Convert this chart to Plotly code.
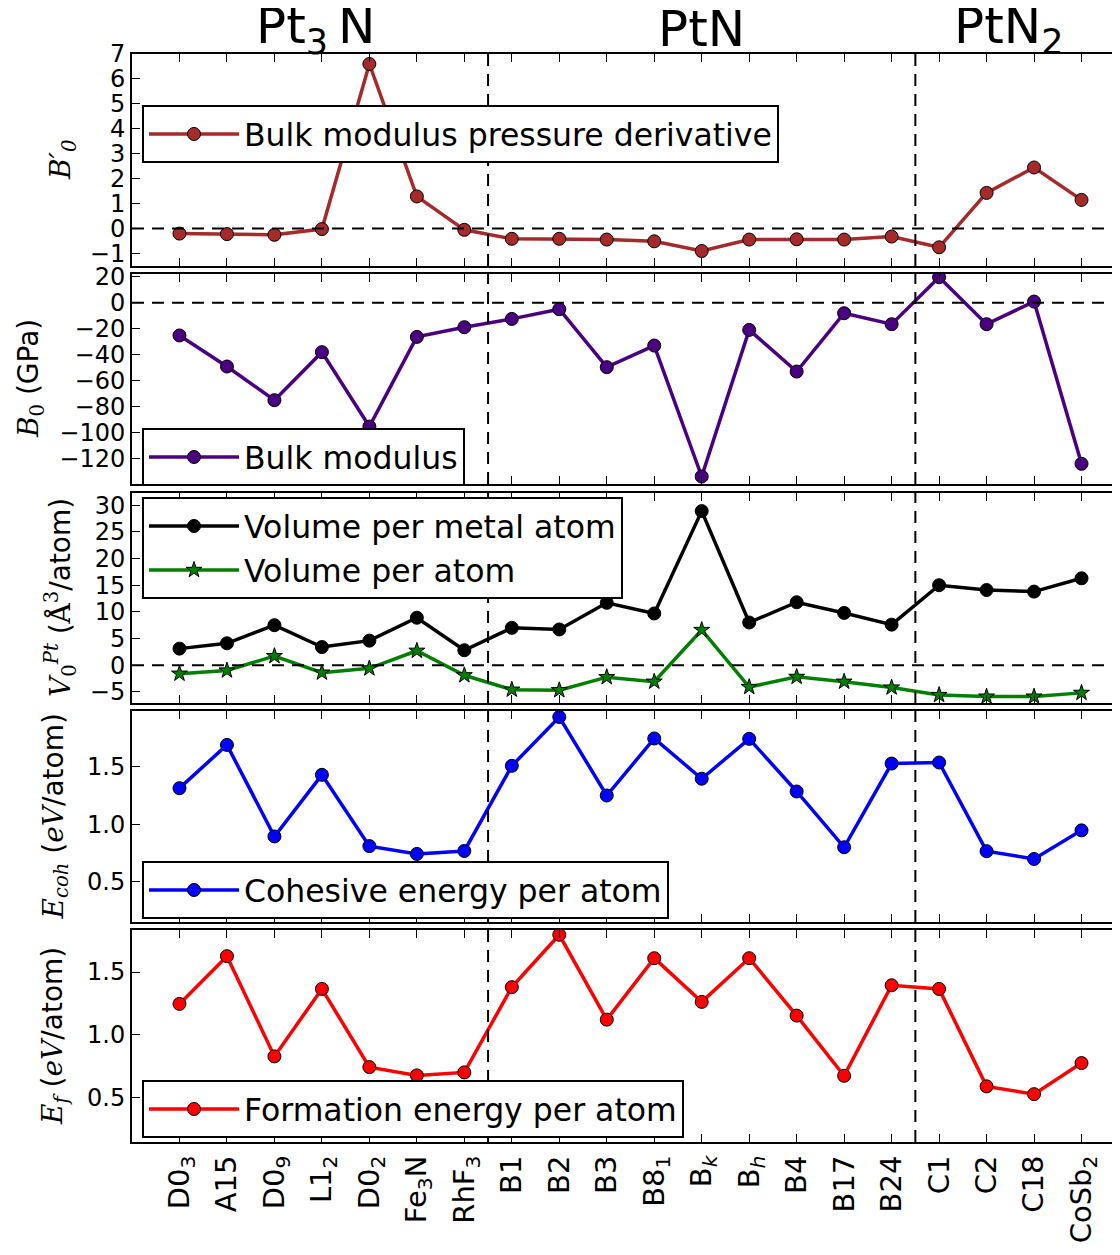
import plotly.graph_objects as go

categories = ["D0<sub>3</sub>", "A15", "D0<sub>9</sub>", "L1<sub>2</sub>", "D0<sub>2</sub>",
              "Fe<sub>3</sub>N", "RhF<sub>3</sub>", "B1", "B2", "B3", "B8<sub>1</sub>",
              "B<sub><i>k</i></sub>", "B<sub><i>h</i></sub>", "B4", "B17", "B24",
              "C1", "C2", "C18", "CoSb<sub>2</sub>"]

bprime = [-0.2, -0.22, -0.25, -0.02, 6.6, 1.29, -0.05, -0.41, -0.41, -0.44, -0.51,
          -0.9, -0.44, -0.43, -0.44, -0.32, -0.75, 1.43, 2.45, 1.15]
bulk = [-25.2, -49.2, -75.2, -38.1, -95.6, -26.3, -18.8, -12.4, -4.9, -49.7, -33.0,
        -134.2, -20.9, -53.1, -8.0, -16.5, 19.8, -16.5, 1.0, -124.4]
vol_metal = [3.1, 4.1, 7.5, 3.4, 4.6, 8.9, 2.8, 7.0, 6.7, 11.7, 9.7,
             28.9, 8.0, 11.8, 9.8, 7.6, 15.0, 14.1, 13.8, 16.3]
vol_atom = [-1.6, -1.0, 1.7, -1.4, -0.6, 2.7, -1.9, -4.6, -4.7, -2.25, -3.1,
            6.6, -4.1, -2.2, -3.1, -4.2, -5.6, -5.9, -5.9, -5.2]
ecoh = [1.314, 1.69, 0.894, 1.43, 0.81, 0.742, 0.768, 1.508, 1.933, 1.25, 1.746,
        1.396, 1.743, 1.285, 0.80, 1.528, 1.537, 0.766, 0.698, 0.947]
eform = [1.247, 1.626, 0.83, 1.366, 0.745, 0.679, 0.703, 1.38, 1.796, 1.122, 1.61,
         1.263, 1.61, 1.154, 0.676, 1.395, 1.366, 0.592, 0.53, 0.777]

group_titles = ["Pt<sub>3</sub>\u2009N", "PtN", "PtN<sub>2</sub>"]
group_title_x = [315, 701, 1008]
separators = [6.5, 15.5]

# page offset of the figure inside the html body
OFF = 8
ML, MR = 132 - OFF, 0
PW = 1129 - 132
W = ML + PW + MR
H = 1255
MT = 54 - OFF
MB = H - (1142 - OFF)
PH = H - MT - MB


def py(p):
    return (H - MB - (p - OFF)) / PH


def px(p):
    return (p - OFF - ML) / PW


panels_px = [(54, 266), (274, 484), (493, 703), (711, 922), (930, 1142)]
domains = [[py(b), py(t)] for (t, b) in panels_px]
domains[0][1] = 1.0
domains[4][0] = 0.0

x = list(range(len(categories)))
fig = go.Figure()


def add_series(vals, name, color, row, legend, symbol="circle", msize=13):
    fig.add_trace(go.Scatter(
        x=x, y=vals, name=name, mode="lines+markers",
        line=dict(color=color, width=3.5),
        marker=dict(symbol=symbol, size=msize, color=color, line=dict(color="black", width=1)),
        xaxis="x" if row == 1 else f"x{row}", yaxis="y" if row == 1 else f"y{row}",
        legend=legend, cliponaxis=True))


add_series(bprime, "Bulk modulus pressure derivative", "#A52A2A", 1, "legend")
add_series(bulk, "Bulk modulus", "#4B0082", 2, "legend2")
add_series(vol_metal, "Volume per metal atom", "black", 3, "legend3")
add_series(vol_atom, "Volume per atom", "#008000", 3, "legend3", symbol="star", msize=12)
add_series(ecoh, "Cohesive energy per atom", "#0000FF", 4, "legend4")
add_series(eform, "Formation energy per atom", "#FF0000", 5, "legend5")

ytickfont = dict(family="DejaVu Sans", size=24, color="black")
xtickfont = dict(family="DejaVu Sans", size=29, color="black")
yranges = [[-1.5, 7], [-140, 22.3], [-7.1, 32.3], [0.15, 1.985], [0.15, 1.834]]
ytickvals = [list(range(-1, 8)), list(range(-120, 21, 20)), list(range(-5, 31, 5)),
             [0.5, 1.0, 1.5], [0.5, 1.0, 1.5]]
ytickfmt = [None, None, None, ".1f", ".1f"]

for i in range(5):
    sfx = "" if i == 0 else str(i + 1)
    fig.layout["xaxis" + sfx] = dict(
        domain=[0, 1], anchor="y" + sfx, range=[-1, 20],
        tickmode="array", tickvals=x, ticktext=categories,
        showticklabels=(i == 4), tickangle=-90, tickfont=xtickfont,
        ticks="inside", ticklen=8, tickwidth=1.2, tickcolor="black",
        showline=True, linecolor="black", linewidth=2, mirror="ticks",
        showgrid=False, zeroline=False, automargin=False)
    ya = dict(
        domain=domains[i], anchor="x" + sfx, range=yranges[i],
        tickmode="array", tickvals=ytickvals[i], tickfont=ytickfont,
        ticks="inside", ticklen=8, tickwidth=1.2, tickcolor="black",
        showline=True, linecolor="black", linewidth=2, mirror="ticks",
        showgrid=False, zeroline=False, automargin=False)
    if ytickfmt[i]:
        ya["tickformat"] = ytickfmt[i]
    fig.layout["yaxis" + sfx] = ya
    for s in separators:
        fig.add_shape(type="line", xref="x" + sfx, yref=f"y{sfx} domain", x0=s, x1=s, y0=0, y1=1,
                      line=dict(color="black", width=2, dash="12px,8px"), layer="above")
    if i < 3:
        fig.add_shape(type="line", xref=f"x{sfx} domain", yref="y" + sfx, x0=0, x1=1, y0=0, y1=0,
                      line=dict(color="black", width=2, dash="12px,8px"), layer="above")

legend_boxes = [(142, 105), (142, 428), (142, 497), (142, 861), (142, 1080)]
for i, (lx, ly) in enumerate(legend_boxes):
    key = "legend" if i == 0 else f"legend{i + 1}"
    fig.layout[key] = dict(
        x=px(lx), y=py(ly), xanchor="left", yanchor="top",
        bgcolor="white", bordercolor="black", borderwidth=2,
        font=dict(family="DejaVu Sans", size=31.5, color="black"),
        itemwidth=90, tracegroupgap=0)

MATH = "font-family:'DejaVu Serif'"
ytitles = [
    f"<span style=\"{MATH}\"><i>B′</i><sub><i>0</i></sub></span>",
    f"<span style=\"{MATH}\"><i>B</i><sub>0</sub></span> (GPa)",
    f"<span style=\"{MATH}\"><i>V</i><sub>0</sub><sup><i>Pt</i></sup></span> (<span style=\"{MATH}\">Å<sup>3</sup></span>/atom)",
    f"<span style=\"{MATH}\"><i>E<sub>coh</sub></i></span> (<span style=\"{MATH}\"><i>eV</i></span>/atom)",
    f"<span style=\"{MATH}\"><i>E<sub>f</sub></i></span> (<span style=\"{MATH}\"><i>eV</i></span>/atom)",
]
ytitle_x = [62, 30, 60, 55, 54]
for i in range(5):
    t, b = panels_px[i]
    fig.add_annotation(text=ytitles[i], xref="paper", yref="paper",
                       x=px(ytitle_x[i]), y=py((t + b) / 2), xanchor="center", yanchor="middle",
                       textangle=-90, showarrow=False,
                       font=dict(family="DejaVu Sans", size=28, color="black"))

for t, gx in zip(group_titles, group_title_x):
    fig.add_annotation(text=t, xref="paper", yref="paper", x=px(gx), y=py(29),
                       xanchor="center", yanchor="middle", showarrow=False,
                       font=dict(family="DejaVu Sans", size=50, color="black"))

fig.update_layout(width=W, height=H, margin=dict(l=ML, r=MR, t=MT, b=MB, pad=0, autoexpand=False),
                  plot_bgcolor="white", paper_bgcolor="white", showlegend=True,
                  font=dict(family="DejaVu Sans", color="black"))

fig.write_html("out.html")
